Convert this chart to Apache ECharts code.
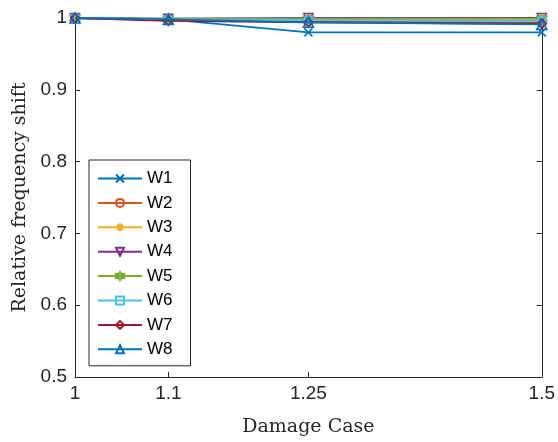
<!DOCTYPE html>
<html><head><meta charset="utf-8">
<script src="https://cdn.jsdelivr.net/npm/echarts@6/dist/echarts.min.js"></script>
<style>html,body{margin:0;padding:0;background:#fff;overflow:hidden}#c{width:558px;height:442px}</style>
</head><body><div id="c"></div>
<script>
const damageCases = [1, 1.1, 1.25, 1.5];
const xTicks = [1, 1.1, 1.25, 1.5];
const yTicks = [0.5, 0.6, 0.7, 0.8, 0.9, 1];
const seriesNames = ['W1','W2','W3','W4','W5','W6','W7','W8'];
const W1 = [1, 0.998, 0.980, 0.980];
const W2 = [1, 0.997, 0.995, 0.994];
const W3 = [1, 0.998, 0.998, 0.997];
const W4 = [1, 0.999, 1.000, 1.000];
const W5 = [1, 0.999, 0.999, 0.999];
const W6 = [1, 0.998, 0.997, 0.996];
const W7 = [1, 0.996, 0.994, 0.992];
const W8 = [1, 0.998, 0.994, 0.991];
const values = [W1, W2, W3, W4, W5, W6, W7, W8];
const colors = ['#0072BD','#D95319','#EDB120','#7E2F8E','#77AC30','#4DBEEE','#A2142F','#0072BD'];
const symbols = [
  'path://M0,0L10,10M10,0L0,10',
  'circle',
  'path://M5,0L5,10M0,5L10,5M1.5,1.5L8.5,8.5M8.5,1.5L1.5,8.5',
  'triangle',
  'path://M5,0L6.5,2.5L9.5,2.5L8,5L9.5,7.5L6.5,7.5L5,10L3.5,7.5L0.5,7.5L2,5L0.5,2.5L3.5,2.5Z',
  'rect',
  'diamond',
  'triangle'
];
const rotations = [0,0,0,180,0,0,0,0];
const sizes = [8,8,9,9,10,7,9,10];

const chart = echarts.init(document.getElementById('c'));
const txt = '#262626';
const series = seriesNames.map((n, i) => ({
  name: n, type: 'line',
  data: damageCases.map((x, j) => [x, values[i][j]]),
  symbol: symbols[i], symbolRotate: rotations[i], symbolSize: sizes[i],
  showSymbol: true,
  lineStyle: {color: colors[i], width: 1.8},
  itemStyle: {color: 'rgba(255,255,255,0)', borderColor: colors[i], borderWidth: 1.6},
  emphasis: {disabled: true},
  z: 2 + i
}));
chart.setOption({
  animation: false,
  backgroundColor: '#fff',
  grid: {left: 75, right: 11, top: 18, bottom: 64, containLabel: false},
  xAxis: [{
    type: 'value', min: 1, max: 1.5,
    name: 'Damage Case', nameLocation: 'middle', nameGap: 41,
    nameTextStyle: {fontFamily: 'DejaVu Serif', fontSize: 19, color: txt},
    axisLine: {show: true, lineStyle: {color: txt, width: 1}},
    axisTick: {show: true, inside: true, length: 5, customValues: xTicks, lineStyle: {color: txt}},
    axisLabel: {customValues: xTicks, fontFamily: 'Liberation Sans', fontSize: 19, color: txt, margin: 7, formatter: v => String(v)},
    splitLine: {show: false}
  }, {
    type: 'value', min: 1, max: 1.5, position: 'top',
    axisLine: {show: true, lineStyle: {color: txt, width: 1}},
    axisTick: {show: true, inside: true, length: 5, customValues: xTicks, lineStyle: {color: txt}},
    axisLabel: {show: false}, splitLine: {show: false}
  }],
  yAxis: [{
    type: 'value', min: 0.5, max: 1, interval: 0.1,
    name: 'Relative frequency shift', nameLocation: 'middle', nameGap: 45,
    nameTextStyle: {fontFamily: 'DejaVu Serif', fontSize: 19, color: txt},
    axisLine: {show: true, lineStyle: {color: txt, width: 1}},
    axisTick: {show: true, inside: true, length: 5, lineStyle: {color: txt}},
    axisLabel: {fontFamily: 'Liberation Sans', fontSize: 19, color: txt, margin: 8,
      formatter: v => (Math.abs(v - 1) < 1e-9 ? '1' : v.toFixed(1))},
    splitLine: {show: false}
  }, {
    type: 'value', min: 0.5, max: 1, interval: 0.1, position: 'right',
    axisLine: {show: true, lineStyle: {color: txt, width: 1}},
    axisTick: {show: true, inside: true, length: 5, lineStyle: {color: txt}},
    axisLabel: {show: false}, splitLine: {show: false}
  }],
  legend: {
    orient: 'vertical', left: 89, top: 160,
    data: seriesNames,
    itemWidth: 44, itemHeight: 10, itemGap: 7.4,
    padding: [10, 18, 8, 8],
    backgroundColor: '#fff', borderColor: txt, borderWidth: 1,
    textStyle: {fontFamily: 'Liberation Sans', fontSize: 17, lineHeight: 15, color: '#000'},
    selectedMode: false
  },
  series: series
});
</script></body></html>
